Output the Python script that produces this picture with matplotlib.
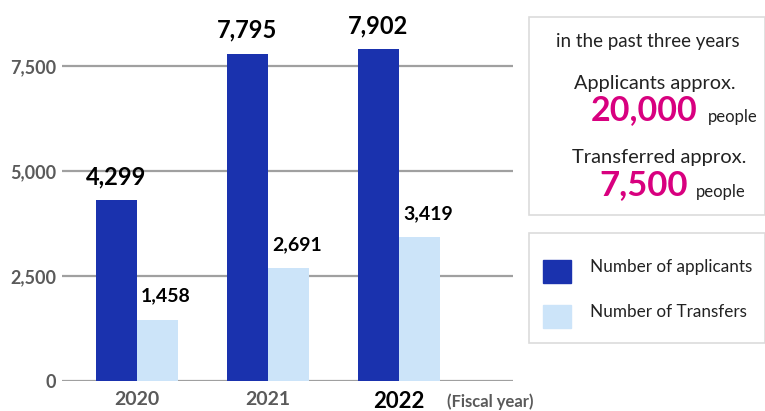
import matplotlib
matplotlib.use("Agg")
import matplotlib.pyplot as plt
from matplotlib.patches import Rectangle
import numpy as np

years = ["2020", "2021", "2022"]
applicants = [4299, 7795, 7902]
transfers = [1458, 2691, 3419]
y_ticks = [0, 2500, 5000, 7500]
y_tick_labels = ["0", "2,500", "5,000", "7,500"]
legend_labels = ["Number of applicants", "Number of Transfers"]

DARK = "#1a32ae"
LIGHT = "#cce4f9"
MAGENTA = "#d8007f"
GRID = "#a0a0a0"
TICK_GREY = "#5a5a5a"
TEXT = "#222222"

plt.rcParams["font.family"] = ["Lato", "DejaVu Sans"]

W, H = 765, 411
fig = plt.figure(figsize=(W / 100, H / 100), dpi=100)

def fx(px):
    return px / W

def fy(py):
    return 1 - py / H

# chart axes: x from 62 to 513 px, y from 381 (zero) to 3 px
ax = fig.add_axes([fx(62), fy(381), fx(513 - 62), fy(3) - fy(381)])
ax.set_xlim(-0.573, 2.871)
ax.set_ylim(0, 2500 * (381 - 3) / 105)

x = np.arange(len(years))
bw = 0.313
ax.bar(x - bw / 2, applicants, bw, color=DARK, zorder=3)
ax.bar(x + bw / 2, transfers, bw, color=LIGHT, zorder=3)

for yt in y_ticks:
    ax.axhline(yt, color=GRID, lw=1.6, zorder=1)

for s in ax.spines.values():
    s.set_visible(False)
ax.set_yticks(y_ticks)
ax.set_yticklabels(y_tick_labels, fontsize=13, fontweight="bold", color=TICK_GREY)
ax.tick_params(axis="y", length=0, pad=4)
ax.set_xticks(x)
ax.set_xticklabels(years)
ax.tick_params(axis="x", length=0, pad=7)
for i, lab in enumerate(ax.get_xticklabels()):
    if i == len(years) - 1:
        lab.set_fontsize(16)
        lab.set_color("black")
    else:
        lab.set_fontsize(14)
        lab.set_color(TICK_GREY)
    lab.set_fontweight("bold")

ax.text(2.37, -0.055, "(Fiscal year)", transform=ax.get_xaxis_transform(),
        fontsize=12, fontweight="bold", color=TICK_GREY, ha="left", va="center")

# value labels above bars
for i in range(len(years)):
    ax.annotate(f"{applicants[i]:,}", (x[i] - bw / 2, applicants[i]),
                xytext=(0, 17), textcoords="offset points",
                ha="center", va="center", fontsize=17, fontweight="bold", color="black")
    ax.annotate(f"{transfers[i]:,}", (x[i] + bw / 2, transfers[i]),
                xytext=(6, 17), textcoords="offset points",
                ha="center", va="center", fontsize=14, fontweight="bold", color="black")

# summary box
fig.patches.append(Rectangle((fx(529), fy(215)), fx(765 - 529), fy(17) - fy(215),
                             transform=fig.transFigure, fill=False,
                             edgecolor="#dcdcdc", lw=1.2))
fig.text(fx(648), fy(41), "in the past three years", fontsize=13.5,
         color=TEXT, ha="center", va="center")
fig.text(fx(655), fy(83), "Applicants approx.", fontsize=14.3,
         color=TEXT, ha="center", va="center")
fig.text(fx(698), fy(110), "20,000", fontsize=24.5, fontweight="bold",
         color=MAGENTA, ha="right", va="center")
fig.text(fx(708), fy(117), "people", fontsize=12, color=TEXT,
         ha="left", va="center")
fig.text(fx(659), fy(157), "Transferred approx.", fontsize=14.5,
         color=TEXT, ha="center", va="center")
fig.text(fx(688), fy(185), "7,500", fontsize=25, fontweight="bold",
         color=MAGENTA, ha="right", va="center")
fig.text(fx(696), fy(192), "people", fontsize=12, color=TEXT,
         ha="left", va="center")

# legend box
fig.patches.append(Rectangle((fx(529), fy(343)), fx(765 - 529), fy(233) - fy(343),
                             transform=fig.transFigure, fill=False,
                             edgecolor="#dcdcdc", lw=1.2))
for j, (lab, col) in enumerate(zip(legend_labels, [DARK, LIGHT])):
    top = 260 + j * 45
    fig.patches.append(Rectangle((fx(543), fy(top + 23)), fx(28), fy(top) - fy(top + 23),
                                 transform=fig.transFigure, color=col))
    fig.text(fx(590), fy(top + 7), lab, fontsize=12.3, color=TEXT,
             ha="left", va="center")

fig.savefig("out.png", dpi=100)
